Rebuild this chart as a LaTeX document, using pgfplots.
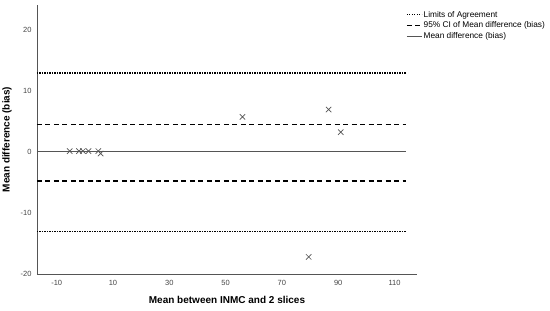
\documentclass[border=0pt]{standalone}
\usepackage{pgfplots}
\pgfplotsset{compat=1.18}
\usepackage{fontspec}
\setmainfont{Liberation Sans}
\definecolor{axgray}{HTML}{555555}
\definecolor{txgray}{HTML}{444444}
\begin{document}
\begin{tikzpicture}
\begin{axis}[
  name=ba,
  scale only axis, width=380pt, height=269pt,
  xmin=-17, xmax=118, ymin=-20, ymax=24,
  axis lines=left, axis line style={-, axgray, line width=0.9pt},
  xtick={-10,10,...,110}, ytick={-20,-10,...,20},
  major tick length=0pt,
  tick label style={font=\fontsize{7.5}{8}\selectfont, text=txgray},
  /pgf/number format/assume math mode=true,
  xticklabel style={yshift=-3pt},
  yticklabel style={xshift=-2pt},
  xlabel={\textbf{Mean between INMC and 2 slices}},
  ylabel={\textbf{Mean difference (bias)}},
  label style={font=\fontsize{10}{12}\selectfont},
  xlabel style={yshift=-4pt},
  ylabel style={yshift=2pt},
  clip=false,
  legend cell align=left,
  legend style={at={(0.963,0.99)}, anchor=north west, draw=none, fill=none,
    font=\fontsize{8.3}{9}\selectfont, row sep=0.8pt,
    nodes={inner sep=1.2pt}},
  legend image code/.code={\draw[#1] (0pt,0pt) -- (15pt,0pt);},
]
\addplot[black, line width=1.3pt, dash pattern=on 1.2pt off 1.3pt] coordinates {(-17,12.9)(114,12.9)};
\addlegendentry{Limits of Agreement}
\addplot[black, line width=1.3pt, dash pattern=on 5pt off 3.5pt] coordinates {(-17,4.5)(114,4.5)};
\addlegendentry{95\% CI of Mean difference (bias)}
\addplot[axgray, line width=1.2pt] coordinates {(-17,0)(114,0)};
\addlegendentry{Mean difference (bias)}
\addplot[black, line width=1.3pt, dash pattern=on 1.2pt off 1.3pt, forget plot] coordinates {(-17,-13.1)(114,-13.1)};
\addplot[black, line width=1.3pt, dash pattern=on 5pt off 3.5pt, forget plot] coordinates {(-17,-4.8)(114,-4.8)};
\addplot[only marks, mark=x, mark size=3.8pt, mark options={axgray, line width=0.7pt}, forget plot]
  coordinates {(-5.4,0.1)(-2.1,0.1)(-0.7,0.1)(1.3,0.1)(4.8,0.1)(5.6,-0.3)
    (56,5.7)(86.6,6.9)(90.9,3.2)(79.5,-17.2)};
\end{axis}
\pgfresetboundingbox
\path[use as bounding box] ([shift={(-37pt,-37pt)}]ba.south west) rectangle ++(550pt,311pt);
\end{tikzpicture}
\end{document}
